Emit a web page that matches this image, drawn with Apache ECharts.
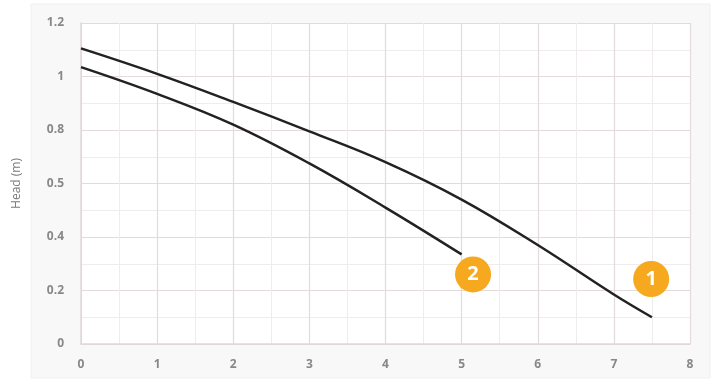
<!DOCTYPE html>
<html>
<head>
<meta charset="utf-8">
<script src="https://cdn.jsdelivr.net/npm/echarts@6/dist/echarts.min.js"></script>
<style>html,body{margin:0;padding:0;background:#fff}#c{width:713px;height:380px}</style>
</head>
<body>
<div id="c"></div>
<script>
// Data
const flowX1 = [0, 1, 2, 3, 4, 5, 6, 7, 7.5];
const head1  = [1.105, 1.01, 0.905, 0.795, 0.68, 0.54, 0.37, 0.185, 0.10];
const flowX2 = [0, 1, 2, 3, 4, 5];
const head2  = [1.035, 0.935, 0.82, 0.675, 0.51, 0.335];
const xTickLabels = ['0','1','2','3','4','5','6','7','8'];
const yTickValues = [0, 0.2, 0.4, 0.6, 0.8, 1, 1.2];
const yTickLabels = ['0','0.2','0.4','0.5','0.8','1','1.2'];
const badgeNames = ['1', '2'];
const badgeX = [7.49, 5.15];
const badgeY = [0.243, 0.26];
const yAxisTitle = 'Head (m)';

const chart = echarts.init(document.getElementById('c'), null, {renderer: 'canvas'});
const lab = {color: '#888888', fontSize: 12, fontWeight: 'bold', fontFamily: 'Open Sans, Liberation Sans, sans-serif'};
chart.setOption({
  animation: false,
  backgroundColor: '#ffffff',
  graphic: [{
    type: 'rect', z: -10, silent: true,
    shape: {x: 31, y: 4, width: 679, height: 374},
    style: {fill: '#f8f8f9', stroke: '#f0f0f0', lineWidth: 1}
  }],
  grid: {left: 81, right: 23, top: 23, bottom: 36, show: true, backgroundColor: '#ffffff', borderWidth: 0},
  xAxis: {
    type: 'value', min: 0, max: 8, interval: 1,
    axisLine: {show: true, lineStyle: {color: '#e0d8d8', width: 1.5}},
    axisTick: {show: false},
    axisLabel: Object.assign({margin: 15, formatter: v => xTickLabels[Math.round(v)]}, lab),
    splitLine: {show: true, lineStyle: {color: '#e3dbdb', width: 1.2}},
    minorTick: {show: false, splitNumber: 2},
    minorSplitLine: {show: true, lineStyle: {color: '#f0ecec', width: 1}}
  },
  yAxis: {
    type: 'value', min: 0, max: 1.2, interval: 0.2,
    name: yAxisTitle, nameLocation: 'middle', nameGap: 58,
    nameTextStyle: {color: '#7a7a7a', fontSize: 12, fontFamily: 'Open Sans, Liberation Sans, sans-serif'},
    axisLine: {show: true, lineStyle: {color: '#e0d8d8', width: 1.5}},
    axisTick: {show: false},
    axisLabel: Object.assign({margin: 17, formatter: v => {
      const i = yTickValues.findIndex(t => Math.abs(t - v) < 1e-6);
      return i >= 0 ? yTickLabels[i] : '';
    }}, lab),
    splitLine: {show: true, lineStyle: {color: '#e3dbdb', width: 1.2}},
    minorTick: {show: false, splitNumber: 2},
    minorSplitLine: {show: true, lineStyle: {color: '#f0ecec', width: 1}}
  },
  series: [
    {type: 'line', data: flowX1.map((x, i) => [x, head1[i]]), smooth: 0.4, symbol: 'none',
     lineStyle: {color: '#222222', width: 2.5}, z: 3},
    {type: 'line', data: flowX2.map((x, i) => [x, head2[i]]), smooth: 0.4, symbol: 'none',
     lineStyle: {color: '#222222', width: 2.5}, z: 3},
    {type: 'scatter', symbolSize: 36, z: 5,
     itemStyle: {color: '#f6a91e', opacity: 1},
     label: {show: true, position: 'inside', formatter: p => p.data[2], color: '#ffffff',
             fontSize: 20, fontWeight: 'bold', fontFamily: 'Open Sans, Liberation Sans, sans-serif'},
     data: badgeNames.map((n, i) => [badgeX[i], badgeY[i], n])}
  ]
});
</script>
</body>
</html>
